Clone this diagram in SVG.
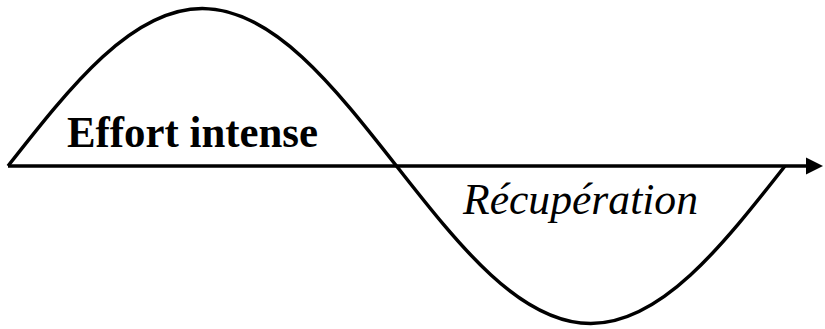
<svg xmlns="http://www.w3.org/2000/svg" width="825" height="329" viewBox="0 0 825 329">
<style>
.ln{fill:none;stroke:#000;stroke-width:3.5;stroke-linejoin:round}
.t1{font-family:"Liberation Serif",serif;font-weight:bold;font-size:44px;fill:#000}
.t2{font-family:"Liberation Serif",serif;font-style:italic;font-size:44px;fill:#000}
</style>
<rect width="825" height="329" fill="#fff"/>
<g id="connectors">
<line class="ln" x1="8" y1="166" x2="810" y2="166"/>
<polygon points="806,157.5 823,166 806,174.5" fill="#000"/>
</g>
<g id="wave">
<path class="ln" d="M8,166 C71.35,85.32 131.95,8.5 202.25,8.5 C272.55,8.5 333.15,85.32 396.5,166 C459.85,246.68 520.45,323.5 590.75,323.5 C661.05,323.5 721.65,246.68 785,166"/>
</g>
<g id="effort">
<text class="t1" x="67" y="147" textLength="251" lengthAdjust="spacingAndGlyphs">Effort intense</text>
</g>
<g id="recuperation">
<text class="t2" x="463" y="214" textLength="235" lengthAdjust="spacingAndGlyphs">Récupération</text>
</g>
</svg>
